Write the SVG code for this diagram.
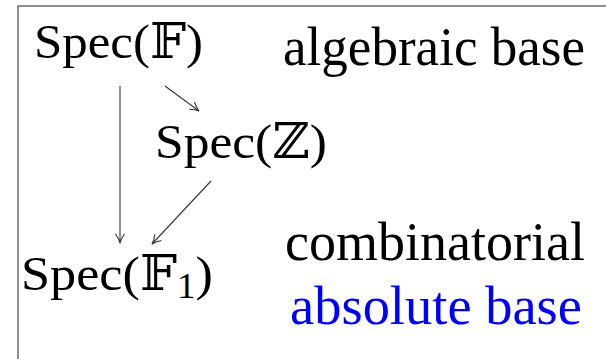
<svg xmlns="http://www.w3.org/2000/svg" width="606" height="359" viewBox="0 0 606 359">
<style>
text{font-family:"Liberation Serif","DejaVu Serif",serif;fill:#000}
.n{font-size:49px}
.l{font-size:54px}
.blue{fill:#0000ff}
.c{stroke:#333;stroke-width:1.1;fill:none}
.dd{font-family:"DejaVu Serif","DejaVu Sans",serif}
</style>
<defs>
<marker id="ah" markerUnits="userSpaceOnUse" markerWidth="14" markerHeight="12" viewBox="-11 -6 12 12" refX="0" refY="0" orient="auto">
<path d="M-9,-4.5 Q-4,-1 0,0 Q-4,1 -9,4.5" stroke="#333" stroke-width="1.1" fill="none"/>
</marker>
</defs>
<rect x="18" y="6" width="620" height="380" fill="#fff" stroke="#555" stroke-width="1.3"/>
<g id="connectors">
<line class="c" x1="120" y1="86" x2="120" y2="243" marker-end="url(#ah)"/>
<line class="c" x1="165" y1="86" x2="199" y2="111" marker-end="url(#ah)"/>
<line class="c" x1="211" y1="181" x2="152" y2="244" marker-end="url(#ah)"/>
</g>
<g id="specF"><text class="n" x="34" y="58" textLength="169" lengthAdjust="spacingAndGlyphs">Spec(𝔽)</text></g>
<g id="algebraic"><text class="l" x="283" y="65" textLength="302" lengthAdjust="spacingAndGlyphs">algebraic base</text></g>
<g id="specZ"><text class="n" x="155" y="158" textLength="172" lengthAdjust="spacingAndGlyphs">Spec(ℤ)</text></g>
<g id="specF1"><text class="n" x="21" y="290" textLength="192" lengthAdjust="spacingAndGlyphs">Spec(𝔽<tspan font-size="35" dy="8">1</tspan><tspan dy="-8">)</tspan></text></g>
<g id="combinatorial"><text class="l" x="285" y="260" textLength="300" lengthAdjust="spacingAndGlyphs">combinatorial</text></g>
<g id="absolute"><text class="l blue" x="290" y="324" textLength="292" lengthAdjust="spacingAndGlyphs">absolute base</text></g>
</svg>
